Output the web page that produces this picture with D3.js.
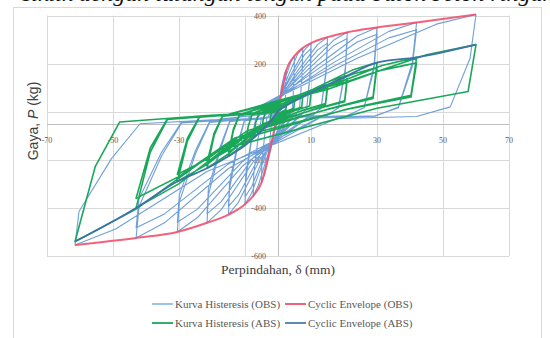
<!DOCTYPE html>
<html>
<head>
<meta charset="utf-8">
<script src="https://cdn.jsdelivr.net/npm/d3@7"></script>
<style>
  body { margin: 0; background: #fff; }
  svg { display: block; }
</style>
</head>
<body>
<svg id="chart" width="550" height="338"></svg>
<script>
// Axis ticks
const xTicks = [-70, -50, -30, -10, 10, 30, 50, 70];
const yTicks = [400, 200, 0, -200, -400, -600];

// Hysteresis loops, [displacement (mm), load (kg)]
const obsHysteresis = [
  [0,0],
  [1.0,100],[2.0,160],[2.5,172],[2.4,100],[2.2,10],[1.8,-10],[0.8,-13],
  [-0.9,-72],[-2.0,-141],[-2.5,-160],[-2.45,-120],[-2.05,-56],[-1.7,-14],[-0.8,-10],
  [2.0,130],[4.0,210],[5,232],[4.85,130],[4.35,12],[3.5,-12],[1.5,-17],
  [-1.75,-133],[-4.0,-260],[-5,-295],[-4.9,-221],[-4.1,-103],[-3.4,-27],[-1.5,-18],
  [3.0,147],[6.0,241],[7.5,265],[7.3,147],[6.5,13],[5.3,-13],[2.3,-19],
  [-2.6,-158],[-6.0,-308],[-7.5,-350],[-7.35,-262],[-6.15,-122],[-5.1,-32],[-2.3,-21],
  [4.0,157],[8.0,256],[10,285],[9.7,157],[8.7,14],[7.0,-14],[3.0,-20],
  [-3.5,-173],[-8.0,-339],[-10,-385],[-9.8,-289],[-8.2,-135],[-6.8,-35],[-3.0,-23],
  [4.0,144],[8.0,236],[10,262],[9.7,144],[8.7,13],[7.0,-13],[3.0,-18],
  [-3.5,-159],[-8.0,-312],[-10,-354],[-9.8,-266],[-8.2,-124],[-6.8,-32],[-3.0,-21],
  [6.0,171],[12,279],[15,310],[14.55,171],[13.05,16],[10.5,-16],[4.5,-22],
  [-5.25,-193],[-12,-377],[-15,-428],[-14.7,-321],[-12.3,-150],[-10.2,-39],[-4.5,-26],
  [6.0,157],[12,257],[15,285],[14.55,157],[13.05,14],[10.5,-14],[4.5,-20],
  [-5.25,-177],[-12,-347],[-15,-394],[-14.7,-296],[-12.3,-138],[-10.2,-35],[-4.5,-24],
  [8.4,182],[16.8,297],[21,330],[20.4,182],[18.3,17],[14.7,-17],[6.3,-23],
  [-7.5,-208],[-17.2,-407],[-21.5,-462],[-21.1,-347],[-17.6,-162],[-14.6,-42],[-6.5,-28],
  [8.4,167],[16.8,274],[21,304],[20.4,167],[18.3,15],[14.7,-15],[6.3,-21],
  [-7.5,-191],[-17.2,-374],[-21.5,-425],[-21.1,-319],[-17.6,-149],[-14.6,-38],[-6.5,-26],
  [12,193],[24,315],[30,350],[29.1,193],[26.1,18],[21,-18],[9,-25],
  [-10.7,-225],[-24.4,-440],[-30.5,-500],[-29.9,-375],[-25,-175],[-20.7,-45],[-9.2,-30],
  [12,177],[24,290],[30,322],[29.1,177],[26.1,16],[21,-16],[9,-23],
  [-10.7,-207],[-24.4,-405],[-30.5,-460],[-29.9,-345],[-25,-161],[-20.7,-41],[-9.2,-28],
  [16.8,204],[33.6,334],[42,371],[40.7,204],[36.5,19],[29.4,-19],[12.6,-26],
  [-15,-236],[-34.4,-462],[-43,-525],[-42.1,-394],[-35.3,-184],[-29.2,-47],[-12.9,-32],
  [16.8,188],[33.6,307],[42,341],[40.7,188],[36.5,17],[29.4,-17],[12.6,-24],
  [-15,-217],[-34.4,-425],[-43,-483],[-42.1,-362],[-35.3,-169],[-29.2,-43],[-12.9,-29],
  [24,222],[48,364],[60,404],[58.2,222],[52.2,20],[42,-20],[18,-28],
  [-21.5,-249],[-49.2,-488],[-61.5,-554],[-60.3,-415],[-50.4,-194],[-41.8,-50],[-18.5,-33],
  [0,-4]
];

const absHysteresis = [
  [0,0],
  [0.9,11],[1.9,21],[2.5,25],[2.4,8],[1.25,1],
  [-0.75,-14],[-1.75,-34],[-2.5,-45],[-2.25,-19],[-1.95,-4],[-0.9,-1],
  [1.75,20],[3.75,38],[5,45],[4.8,14],[2.5,2],
  [-1.5,-24],[-3.5,-60],[-5,-80],[-4.5,-34],[-3.9,-6],[-1.75,-2],
  [2.6,28],[5.6,54],[7.5,63],[7.2,19],[3.75,3],
  [-2.25,-33],[-5.25,-83],[-7.5,-110],[-6.75,-46],[-5.85,-9],[-2.6,-3],
  [3.5,36],[7.5,68],[10,80],[9.6,24],[5,4],
  [-3,-42],[-7,-105],[-10,-140],[-9,-59],[-7.8,-11],[-3.5,-4],
  [5.25,50],[11.25,95],[15,112],[14.4,34],[7.5,6],
  [-4.5,-56],[-10.5,-139],[-15,-185],[-13.5,-78],[-11.7,-15],[-5.25,-6],
  [5.25,45],[11.25,85],[15,100],[14.4,30],[7.5,5],
  [-4.5,-50],[-10.5,-126],[-15,-168],[-13.5,-71],[-11.7,-13],[-5.25,-5],
  [7.35,68],[15.75,128],[21,150],[20.2,45],[10.5,8],
  [-6.45,-71],[-15.05,-176],[-21.5,-235],[-19.35,-99],[-16.8,-19],[-7.5,-7],
  [7.35,61],[15.75,115],[21,135],[20.2,41],[10.5,7],
  [-6.45,-64],[-15.05,-159],[-21.5,-212],[-19.35,-89],[-16.8,-17],[-7.5,-6],
  [10.5,92],[22.5,173],[30,204],[28.8,61],[15,10],
  [-9.15,-87],[-21.35,-218],[-30.5,-290],[-27.45,-122],[-23.8,-23],[-10.7,-9],
  [10.5,83],[22.5,156],[30,184],[28.8,55],[15,9],
  [-9.15,-78],[-21.35,-196],[-30.5,-261],[-27.45,-110],[-23.8,-21],[-10.7,-8],
  [14.7,102],[31.5,192],[42,226],[40.3,68],[21,11],
  [-12.9,-120],[-30.1,-300],[-43,-400],[-38.7,-168],[-33.5,-32],[-15,-12],
  [14.7,91],[31.5,173],[42,203],[40.3,61],[21,10],
  [-12.9,-108],[-30.1,-270],[-43,-360],[-38.7,-151],[-33.5,-29],[-15,-11],
  [21,126],[45,237],[60,279],[57.6,84],[30,14],
  [-18.5,-162],[-43,-405],[-61.5,-540],[-55.35,-227],[-48,-43],[-21.5,-16],
  [0,0]
];

// Cyclic envelopes through the peak of each displacement level
const obsEnvelope = [
  [-61.5,-554],[-43,-525],[-30.5,-500],[-21.5,-462],[-15,-428],[-10,-385],[-7.5,-350],[-5,-295],[-2.5,-160],
  [0,0],[2.5,172],[5,232],[7.5,265],[10,285],[15,310],[21,330],[30,350],[42,371],[60,404]
];
const absEnvelope = [
  [-61.5,-540],[-43,-400],[-30.5,-290],[-21.5,-235],[-15,-185],[-10,-140],[-7.5,-110],[-5,-80],[-2.5,-45],
  [0,0],[2.5,25],[5,45],[7.5,63],[10,80],[15,112],[21,150],[30,204],[42,226],[60,279]
];

const legendNames = ["Kurva Histeresis (OBS)", "Cyclic Envelope (OBS)", "Kurva Histeresis (ABS)", "Cyclic Envelope (ABS)"];
const legendColors = ["#9cc3ea", "#f2617a", "#2fb064", "#5f88b8"];

const svg = d3.select("#chart");
const serif = "'Liberation Serif', 'Times New Roman', serif";
const sans = "'Liberation Sans', Arial, sans-serif";

// Running caption line above the figure (only its lower edge shows)
svg.append("text")
  .attr("x", 22).attr("y", 1)
  .attr("font-family", serif).attr("font-style", "italic").attr("font-size", 24)
  .attr("fill", "#111")
  .text("siklik dengan tulangan tengah pada balok beton ringan yang diuji");

// Chart frame
svg.append("rect")
  .attr("x", 13.5).attr("y", 7.5).attr("width", 528).attr("height", 340)
  .attr("fill", "#fff").attr("stroke", "#d9d9d9").attr("stroke-width", 1);

const x = d3.scaleLinear().domain([-70, 70]).range([47, 509]);
const y = d3.scaleLinear().domain([-600, 400]).range([256, 15.5]);

// Gridlines
const grid = svg.append("g").attr("stroke", "#d9d9d9").attr("stroke-width", 1);
grid.selectAll("line.v").data(xTicks).join("line")
  .attr("x1", d => Math.round(x(d)) + 0.5).attr("x2", d => Math.round(x(d)) + 0.5)
  .attr("y1", y(400)).attr("y2", y(-600));
grid.selectAll("line.h").data(yTicks).join("line")
  .attr("y1", d => Math.round(y(d)) + 0.5).attr("y2", d => Math.round(y(d)) + 0.5)
  .attr("x1", x(-70)).attr("x2", x(70));

// Axis lines: vertical at δ = 0, horizontal crossing at P = -50
svg.append("line")
  .attr("x1", Math.round(x(0)) + 0.5).attr("x2", Math.round(x(0)) + 0.5)
  .attr("y1", y(400)).attr("y2", y(-600))
  .attr("stroke", "#bfbfbf");
svg.append("line")
  .attr("x1", x(-70)).attr("x2", x(70))
  .attr("y1", Math.round(y(-50)) + 0.5).attr("y2", Math.round(y(-50)) + 0.5)
  .attr("stroke", "#bfbfbf");

// Tick labels
svg.append("g").selectAll("text").data(xTicks).join("text")
  .attr("x", d => x(d)).attr("y", y(-50) + 19)
  .attr("text-anchor", "middle")
  .attr("font-family", serif).attr("font-size", 8).attr("fill", "#595959")
  .text(d => d);
svg.append("g").selectAll("text").data(yTicks).join("text")
  .attr("x", x(0) - 12).attr("y", d => y(d) + 3)
  .attr("text-anchor", "end")
  .attr("font-family", serif).attr("font-size", 8).attr("fill", "#595959")
  .text(d => d);

// Series
const line = d3.line().x(d => x(d[0])).y(d => y(d[1]));
const smooth = d3.line().x(d => x(d[0])).y(d => y(d[1])).curve(d3.curveMonotoneX);

svg.append("path").datum(obsHysteresis).attr("d", line)
  .attr("fill", "none").attr("stroke", "#6f9fd8").attr("stroke-width", 1.1)
  .attr("stroke-linejoin", "round");
svg.append("path").datum(obsEnvelope).attr("d", smooth)
  .attr("fill", "none").attr("stroke", "#f2506c").attr("stroke-width", 2)
  .attr("stroke-opacity", 0.9);
svg.append("path").datum(absHysteresis).attr("d", line)
  .attr("fill", "none").attr("stroke", "#1aa75a").attr("stroke-width", 1.6)
  .attr("stroke-linejoin", "round");
svg.append("path").datum(absEnvelope).attr("d", smooth)
  .attr("fill", "none").attr("stroke", "#3f73a8").attr("stroke-width", 1.8);

// Axis titles
svg.append("text")
  .attr("x", x(0)).attr("y", 274)
  .attr("text-anchor", "middle")
  .attr("font-family", serif).attr("font-size", 13.5).attr("fill", "#404040")
  .text("Perpindahan, δ (mm)");
const yTitle = svg.append("text")
  .attr("transform", "translate(38,121) rotate(-90)")
  .attr("text-anchor", "middle")
  .attr("font-family", sans).attr("font-size", 14).attr("fill", "#404040");
yTitle.append("tspan").text("Gaya, ");
yTitle.append("tspan").attr("font-style", "italic").text("P");
yTitle.append("tspan").text(" (kg)");

// Legend, two rows of two entries
const legendPos = [[152, 304], [285, 304], [152, 323], [285, 323]];
const legend = svg.append("g");
legendNames.forEach((name, i) => {
  const [lx, ly] = legendPos[i];
  legend.append("line")
    .attr("x1", lx).attr("x2", lx + 21).attr("y1", ly).attr("y2", ly)
    .attr("stroke", legendColors[i]).attr("stroke-width", 2);
  legend.append("text")
    .attr("x", lx + 23).attr("y", ly + 3.5)
    .attr("font-family", serif).attr("font-size", 11).attr("fill", "#595959")
    .text(name);
});
</script>
</body>
</html>
